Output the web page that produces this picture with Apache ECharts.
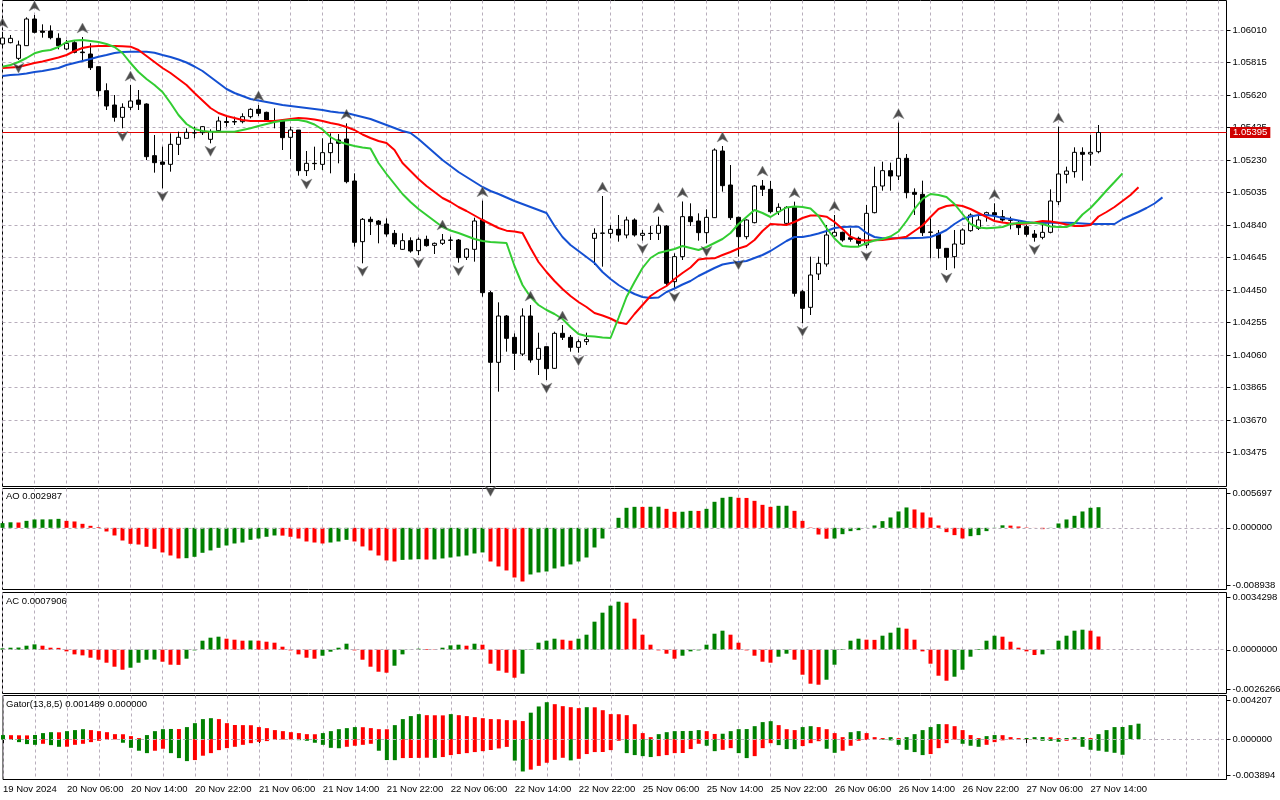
<!DOCTYPE html>
<html><head><meta charset="utf-8">
<script src="https://cdn.jsdelivr.net/npm/echarts@6/dist/echarts.min.js"></script>
<style>html,body{margin:0;padding:0;background:#fff}#c{width:1280px;height:800px}</style>
</head><body><div id="c"></div>
<script>
// ---- EURUSD H1 candles (bar 0 = 19 Nov 22:00) ----
const opens = [1.05926,1.05934,1.05840,1.05916,1.06076,1.06004,1.06004,1.05960,1.05896,1.05934,
1.05878,1.05866,1.05790,1.05646,1.05560,1.05486,1.05546,1.05590,1.05566,1.05256,
1.05218,1.05204,1.05324,1.05360,1.05392,1.05394,1.05354,1.05406,1.05461,1.05458,
1.05460,1.05490,1.05534,1.05516,1.05467,1.05464,1.05366,1.05410,1.05166,1.05210,
1.05204,1.05274,1.05350,1.05356,1.05104,1.04740,1.04874,1.04864,1.04846,1.04790,
1.04694,1.04746,1.04686,1.04754,1.04718,1.04730,1.04750,1.04750,1.04646,1.04694,
1.04870,1.04434,1.04016,1.04294,1.04166,1.04066,1.04294,1.04034,1.04110,1.03980,
1.04190,1.04166,1.04106,1.04140,1.04760,1.04790,1.04790,1.04814,1.04780,1.04870,
1.04778,1.04790,1.04790,1.04834,1.04500,1.04650,1.04890,1.04864,1.04794,1.04884,
1.05284,1.05080,1.04886,1.04770,1.04854,1.05074,1.05054,1.04920,1.04850,1.04946,
1.04440,1.04346,1.04546,1.04606,1.04774,1.04796,1.04764,1.04760,1.04720,1.04914,
1.05074,1.05166,1.05134,1.05240,1.05036,1.05024,1.04798,1.04790,1.04700,1.04650,
1.04726,1.04806,1.04820,1.04900,1.04914,1.04890,1.04870,1.04850,1.04830,1.04786,
1.04766,1.04796,1.04980,1.05144,1.05160,1.05276,1.05266,1.05280];
const closes = [1.05962,1.05960,1.05920,1.06076,1.05996,1.05996,1.05964,1.05916,1.05930,1.05876,
1.05874,1.05784,1.05646,1.05554,1.05486,1.05546,1.05584,1.05564,1.05250,1.05214,
1.05204,1.05324,1.05366,1.05396,1.05394,1.05430,1.05400,1.05464,1.05455,1.05461,
1.05490,1.05534,1.05510,1.05464,1.05464,1.05364,1.05410,1.05166,1.05210,1.05208,
1.05274,1.05330,1.05330,1.05100,1.04736,1.04874,1.04860,1.04844,1.04786,1.04726,
1.04746,1.04684,1.04754,1.04716,1.04730,1.04750,1.04748,1.04644,1.04696,1.04864,
1.04434,1.04016,1.04294,1.04160,1.04070,1.04294,1.04030,1.04100,1.03978,1.04190,
1.04166,1.04106,1.04140,1.04154,1.04790,1.04792,1.04814,1.04780,1.04870,1.04780,
1.04790,1.04789,1.04838,1.04490,1.04650,1.04890,1.04860,1.04794,1.04886,1.05290,
1.05076,1.04884,1.04770,1.04870,1.05074,1.05054,1.04920,1.04946,1.04946,1.04430,
1.04340,1.04540,1.04610,1.04780,1.04796,1.04750,1.04754,1.04730,1.04910,1.05070,
1.05166,1.05134,1.05240,1.05034,1.05024,1.04794,1.04796,1.04700,1.04646,1.04726,
1.04810,1.04900,1.04870,1.04914,1.04900,1.04870,1.04868,1.04824,1.04784,1.04766,
1.04796,1.04984,1.05146,1.05164,1.05276,1.05264,1.05276,1.05395];
const lows = [1.05914,1.05930,1.05830,1.05914,1.05990,1.05964,1.05954,1.05894,1.05890,1.05870,
1.05830,1.05770,1.05610,1.05530,1.05460,1.05420,1.05530,1.05530,1.05230,1.05154,
1.05060,1.05160,1.05260,1.05360,1.05360,1.05380,1.05330,1.05400,1.05430,1.05440,
1.05450,1.05480,1.05494,1.05460,1.05420,1.05290,1.05236,1.05136,1.05134,1.05170,
1.05170,1.05150,1.05210,1.05090,1.04710,1.04610,1.04780,1.04730,1.04770,1.04708,
1.04690,1.04674,1.04660,1.04710,1.04666,1.04720,1.04690,1.04614,1.04630,1.04620,
1.04410,1.03290,1.03840,1.04080,1.03970,1.04054,1.04014,1.03940,1.03910,1.03976,
1.04150,1.04080,1.04074,1.04120,1.04600,1.04590,1.04760,1.04740,1.04760,1.04770,
1.04746,1.04750,1.04750,1.04480,1.04456,1.04630,1.04834,1.04746,1.04730,1.04882,
1.05040,1.04870,1.04650,1.04754,1.04850,1.05014,1.04910,1.04900,1.04840,1.04410,
1.04250,1.04300,1.04510,1.04590,1.04770,1.04740,1.04740,1.04710,1.04702,1.04910,
1.05046,1.05046,1.05110,1.05000,1.04900,1.04774,1.04640,1.04640,1.04570,1.04580,
1.04720,1.04800,1.04810,1.04860,1.04860,1.04860,1.04814,1.04780,1.04770,1.04740,
1.04754,1.04790,1.04960,1.05090,1.05124,1.05106,1.05196,1.05270];
const highs = [1.05998,1.05980,1.05946,1.06086,1.06100,1.06044,1.06038,1.05990,1.05950,1.05950,
1.05968,1.05930,1.05790,1.05690,1.05620,1.05570,1.05680,1.05650,1.05570,1.05380,
1.05310,1.05390,1.05400,1.05420,1.05430,1.05434,1.05414,1.05490,1.05490,1.05490,
1.05510,1.05540,1.05560,1.05520,1.05540,1.05470,1.05430,1.05410,1.05284,1.05310,
1.05360,1.05390,1.05386,1.05450,1.05150,1.04882,1.04890,1.04870,1.04880,1.04810,
1.04790,1.04766,1.04766,1.04776,1.04735,1.04786,1.04770,1.04756,1.04700,1.04884,
1.04986,1.04444,1.04376,1.04300,1.04190,1.04340,1.04360,1.04194,1.04110,1.04200,
1.04240,1.04180,1.04154,1.04194,1.04820,1.05014,1.04840,1.04900,1.04890,1.04880,
1.04810,1.04834,1.04890,1.04840,1.04670,1.04981,1.04970,1.04910,1.04934,1.05300,
1.05314,1.05200,1.04890,1.04874,1.05080,1.05110,1.05104,1.04970,1.04954,1.04980,
1.04450,1.04650,1.04650,1.04840,1.04900,1.04800,1.04820,1.04770,1.04960,1.05190,
1.05220,1.05214,1.05454,1.05266,1.05060,1.05106,1.04880,1.04810,1.04700,1.04810,
1.04820,1.04910,1.04910,1.04920,1.04970,1.04930,1.04890,1.04866,1.04840,1.04810,
1.04840,1.05054,1.05430,1.05190,1.05306,1.05306,1.05380,1.05440];

// ---- Alligator lines (as displayed, incl. forward shift) ----
const lips = [1.05790,1.05800,1.05818,1.05842,1.05870,1.05884,1.05890,1.05908,1.05938,1.05947,
1.05950,1.05944,1.05938,1.05926,1.05908,1.05872,1.05812,1.05758,1.05716,1.05680,
1.05638,1.05572,1.05500,1.05446,1.05416,1.05404,1.05400,1.05400,1.05400,1.05400,
1.05410,1.05420,1.05434,1.05446,1.05458,1.05466,1.05470,1.05470,1.05461,1.05443,
1.05413,1.05368,1.05341,1.05326,1.05314,1.05305,1.05299,1.05212,1.05146,1.05086,
1.05026,1.04978,1.04936,1.04900,1.04864,1.04828,1.04807,1.04792,1.04774,1.04756,
1.04744,1.04738,1.04735,1.04732,1.04594,1.04480,1.04408,1.04360,1.04330,1.04306,
1.04276,1.04228,1.04186,1.04174,1.04171,1.04165,1.04162,1.04282,1.04408,1.04498,
1.04582,1.04642,1.04672,1.04684,1.04696,1.04714,1.04702,1.04690,1.04708,1.04732,
1.04756,1.04792,1.04846,1.04888,1.04930,1.04912,1.04888,1.04918,1.04945,1.04951,
1.04948,1.04939,1.04894,1.04822,1.04759,1.04714,1.04710,1.04710,1.04732,1.04747,
1.04756,1.04771,1.04801,1.04864,1.04936,1.04996,1.05026,1.05020,1.05008,1.04966,
1.04906,1.04846,1.04825,1.04820,1.04824,1.04828,1.04846,1.04852,1.04854,1.04854,
1.04846,1.04831,1.04828,1.04828,1.04849,1.04903,1.04942,1.04993,1.05047,1.05098,
1.05150];
const teeth = [1.05782,1.05785,1.05788,1.05800,1.05812,1.05821,1.05833,1.05845,1.05860,1.05884,
1.05902,1.05911,1.05914,1.05914,1.05914,1.05912,1.05910,1.05890,1.05854,1.05818,
1.05782,1.05752,1.05716,1.05680,1.05632,1.05587,1.05542,1.05512,1.05494,1.05482,
1.05470,1.05464,1.05464,1.05464,1.05464,1.05470,1.05476,1.05482,1.05479,1.05473,
1.05464,1.05452,1.05443,1.05428,1.05410,1.05383,1.05362,1.05344,1.05332,1.05290,
1.05212,1.05164,1.05116,1.05074,1.05038,1.05002,1.04978,1.04948,1.04924,1.04897,
1.04870,1.04846,1.04822,1.04806,1.04801,1.04792,1.04702,1.04618,1.04558,1.04504,
1.04456,1.04414,1.04378,1.04348,1.04312,1.04297,1.04279,1.04255,1.04246,1.04306,
1.04360,1.04414,1.04447,1.04474,1.04516,1.04552,1.04585,1.04633,1.04639,1.04640,
1.04660,1.04678,1.04699,1.04714,1.04750,1.04804,1.04846,1.04843,1.04840,1.04858,
1.04882,1.04897,1.04897,1.04890,1.04858,1.04816,1.04770,1.04750,1.04747,1.04748,
1.04750,1.04756,1.04762,1.04770,1.04804,1.04837,1.04888,1.04936,1.04954,1.04960,
1.04954,1.04936,1.04912,1.04888,1.04864,1.04855,1.04849,1.04846,1.04849,1.04855,
1.04864,1.04861,1.04854,1.04843,1.04834,1.04834,1.04840,1.04891,1.04918,1.04948,
1.04984,1.05020,1.05066];
const jaw = [1.05734,1.05740,1.05743,1.05749,1.05758,1.05764,1.05773,1.05782,1.05800,1.05812,
1.05824,1.05836,1.05850,1.05860,1.05872,1.05878,1.05880,1.05880,1.05880,1.05874,
1.05860,1.05848,1.05833,1.05815,1.05791,1.05764,1.05728,1.05692,1.05656,1.05632,
1.05614,1.05596,1.05587,1.05578,1.05569,1.05560,1.05554,1.05548,1.05542,1.05536,
1.05530,1.05521,1.05515,1.05512,1.05500,1.05488,1.05476,1.05458,1.05440,1.05422,
1.05404,1.05392,1.05356,1.05314,1.05272,1.05230,1.05194,1.05158,1.05128,1.05098,
1.05068,1.05044,1.05026,1.05005,1.04984,1.04966,1.04948,1.04930,1.04912,1.04834,
1.04768,1.04720,1.04684,1.04648,1.04612,1.04558,1.04516,1.04480,1.04450,1.04426,
1.04408,1.04402,1.04405,1.04438,1.04459,1.04483,1.04504,1.04534,1.04558,1.04582,
1.04603,1.04612,1.04618,1.04624,1.04642,1.04660,1.04684,1.04714,1.04744,1.04768,
1.04768,1.04777,1.04789,1.04804,1.04822,1.04828,1.04830,1.04830,1.04792,1.04768,
1.04760,1.04760,1.04760,1.04760,1.04762,1.04764,1.04768,1.04786,1.04810,1.04846,
1.04876,1.04891,1.04900,1.04900,1.04894,1.04882,1.04876,1.04867,1.04858,1.04852,
1.04852,1.04854,1.04854,1.04854,1.04852,1.04849,1.04846,1.04846,1.04846,1.04846,
1.04876,1.04897,1.04918,1.04942,1.04969,1.05006];

// ---- Fractals (bar indices) ----
const upFractals = [0,4,10,16,32,43,55,60,66,70,75,82,85,90,95,99,104,112,124,132];
const downFractals = [2,15,20,26,38,45,52,57,61,68,72,80,84,88,92,100,108,118,129];

// ---- Oscillators ----
const aoValues = [0.00068,0.00080,0.00077,0.00101,0.00121,0.00122,0.00123,0.00130,0.00101,0.00092,
0.00058,0.00029,0.00010,-0.00053,-0.00111,-0.00184,-0.00232,-0.00242,-0.00275,-0.00304,
-0.00357,-0.00401,-0.00444,-0.00440,-0.00420,-0.00362,-0.00328,-0.00290,-0.00256,-0.00227,
-0.00213,-0.00174,-0.00155,-0.00130,-0.00111,-0.00113,-0.00130,-0.00155,-0.00198,-0.00213,
-0.00227,-0.00213,-0.00198,-0.00174,-0.00198,-0.00270,-0.00328,-0.00401,-0.00473,-0.00488,
-0.00465,-0.00460,-0.00455,-0.00460,-0.00458,-0.00444,-0.00430,-0.00415,-0.00401,-0.00372,
-0.00357,-0.00488,-0.00560,-0.00618,-0.00720,-0.00778,-0.00676,-0.00647,-0.00633,-0.00589,
-0.00560,-0.00531,-0.00488,-0.00430,-0.00285,-0.00155,0.00002,0.00145,0.00290,0.00304,
0.00303,0.00305,0.00306,0.00275,0.00232,0.00233,0.00246,0.00245,0.00275,0.00377,
0.00435,0.00449,0.00435,0.00433,0.00391,0.00333,0.00304,0.00319,0.00320,0.00246,
0.00101,0.00005,-0.00097,-0.00158,-0.00155,-0.00092,-0.00048,-0.00034,0.00002,0.00034,
0.00097,0.00150,0.00237,0.00295,0.00266,0.00222,0.00150,0.00034,-0.00063,-0.00106,
-0.00155,-0.00121,-0.00106,-0.00048,-0.00005,0.00036,0.00032,0.00019,0.00005,0.00001,
-0.00019,-0.00002,0.00063,0.00121,0.00174,0.00237,0.00290,0.002987];
const acValues = [0.00008,0.00012,0.00013,0.00024,0.00032,0.00024,0.00012,0.00011,-0.00010,-0.00028,
-0.00034,-0.00048,-0.00060,-0.00078,-0.00102,-0.00120,-0.00108,-0.00078,-0.00060,-0.00059,
-0.00072,-0.00090,-0.00091,-0.00054,-0.00004,0.00054,0.00072,0.00078,0.00066,0.00060,
0.00054,0.00055,0.00054,0.00048,0.00042,0.00018,-0.00004,-0.00028,-0.00048,-0.00054,
-0.00036,-0.00012,0.00012,0.00036,-0.00004,-0.00060,-0.00102,-0.00132,-0.00138,-0.00096,
-0.00028,-0.00001,0.00006,0.00004,0.00002,0.00012,0.00026,0.00030,0.00024,0.00036,
0.00030,-0.00084,-0.00126,-0.00138,-0.00168,-0.00144,0.00002,0.00042,0.00054,0.00066,
0.00060,0.00054,0.00066,0.00090,0.00168,0.00222,0.00264,0.00288,0.00282,0.00186,
0.00090,0.00030,-0.00004,-0.00024,-0.00054,-0.00036,-0.00010,-0.00004,0.00030,0.00096,
0.00114,0.00090,0.00042,-0.00004,-0.00036,-0.00072,-0.00078,-0.00042,-0.00024,-0.00060,
-0.00150,-0.00204,-0.00210,-0.00180,-0.00090,0.00004,0.00054,0.00066,0.00060,0.00059,
0.00084,0.00102,0.00132,0.00126,0.00060,-0.00010,-0.00084,-0.00156,-0.00186,-0.00162,
-0.00120,-0.00042,0.00004,0.00054,0.00084,0.00078,0.00048,0.00012,-0.00010,-0.00032,
-0.00028,0.00001,0.00054,0.00084,0.00114,0.00120,0.00114,0.0007906];
const gatorUpper = [0.00039,0.00038,0.00037,0.00036,0.00040,0.00058,0.00067,0.00066,0.00077,0.00087,
0.00096,0.00087,0.00077,0.00067,0.00048,0.00047,0.00029,0.00010,0.00039,0.00077,
0.00096,0.00098,0.00097,0.00116,0.00154,0.00193,0.00202,0.00193,0.00154,0.00136,
0.00135,0.00134,0.00116,0.00106,0.00087,0.00077,0.00067,0.00058,0.00048,0.00047,
0.00058,0.00077,0.00096,0.00106,0.00116,0.00115,0.00106,0.00096,0.00095,0.00135,
0.00193,0.00222,0.00241,0.00231,0.00230,0.00229,0.00241,0.00231,0.00222,0.00212,
0.00202,0.00193,0.00192,0.00183,0.00182,0.00174,0.00255,0.00315,0.00356,0.00337,
0.00318,0.00308,0.00299,0.00308,0.00307,0.00279,0.00241,0.00240,0.00231,0.00144,
0.00058,0.00019,0.00048,0.00067,0.00077,0.00078,0.00079,0.00087,0.00077,0.00050,
0.00052,0.00077,0.00096,0.00097,0.00125,0.00164,0.00173,0.00135,0.00096,0.00087,
0.00116,0.00125,0.00116,0.00096,0.00058,0.00019,0.00067,0.00077,0.00058,0.00019,
0.00010,0.00019,0.00010,0.00019,0.00048,0.00087,0.00116,0.00145,0.00144,0.00125,
0.00087,0.00039,0.00010,0.00029,0.00039,0.00038,0.00019,0.00010,0.00011,0.00019,
0.00020,0.00018,0.00010,0.00011,0.00019,0.00020,0.00010,0.00048,0.00087,0.00116,
0.00117,0.00135,0.001489];
const gatorLower = [0.00005,0.00008,0.00029,0.00048,0.00055,0.00045,0.00058,0.00074,0.00073,0.00055,
0.00045,0.00029,0.00016,0.00006,0.00003,0.00035,0.00084,0.00112,0.00135,0.00112,
0.00093,0.00135,0.00183,0.00212,0.00202,0.00160,0.00135,0.00106,0.00087,0.00074,
0.00055,0.00039,0.00026,0.00019,0.00008,0.00004,0.00003,0.00010,0.00016,0.00035,
0.00055,0.00084,0.00088,0.00074,0.00064,0.00055,0.00045,0.00112,0.00202,0.00203,
0.00183,0.00182,0.00181,0.00179,0.00181,0.00173,0.00154,0.00144,0.00135,0.00125,
0.00116,0.00105,0.00090,0.00075,0.00207,0.00312,0.00294,0.00258,0.00228,0.00200,
0.00180,0.00205,0.00190,0.00144,0.00125,0.00124,0.00106,0.00016,0.00135,0.00154,
0.00164,0.00173,0.00164,0.00154,0.00135,0.00134,0.00096,0.00045,0.00064,0.00116,
0.00103,0.00087,0.00135,0.00183,0.00164,0.00087,0.00039,0.00058,0.00096,0.00097,
0.00067,0.00039,0.00020,0.00093,0.00132,0.00112,0.00064,0.00016,0.00008,0.00003,
0.00006,0.00012,0.00055,0.00103,0.00125,0.00154,0.00144,0.00087,0.00039,0.00005,
0.00045,0.00064,0.00074,0.00055,0.00029,0.00012,0.00004,0.00005,0.00003,0.00002,
0.00016,0.00017,0.00026,0.00016,0.00005,0.00074,0.00103,0.00112,0.00122,0.00132,
0.00151];

// ---- Axis labels ----
const timeLabels = ['19 Nov 2024','20 Nov 06:00','20 Nov 14:00','20 Nov 22:00','21 Nov 06:00','21 Nov 14:00',
'21 Nov 22:00','22 Nov 06:00','22 Nov 14:00','22 Nov 22:00','25 Nov 06:00','25 Nov 14:00','25 Nov 22:00',
'26 Nov 06:00','26 Nov 14:00','26 Nov 22:00','27 Nov 06:00','27 Nov 14:00'];
const priceTicks = ['1.03475','1.03670','1.03865','1.04060','1.04255','1.04450','1.04645','1.04840',
'1.05035','1.05230','1.05425','1.05620','1.05815','1.06010'];
const lastPrice = 1.05395;
const aoScale = [0.005697, 0, -0.008938];
const aoTickLabels = ['0.005697','0.000000','-0.008938'];
const acScale = [0.0034298, 0, -0.0026266];
const acTickLabels = ['0.0034298','0.0000000','-0.0026266'];
const gatorScale = [0.004207, 0, -0.003894];
const gatorTickLabels = ['0.004207','0.000000','-0.003894'];
const panelTitles = ['AO 0.002987','AC 0.0007906','Gator(13,8,5) 0.001489 0.000000'];

// ---- layout / style ----
const NCAT = 154, LABEL_EVERY = 8, GRID_EVERY = 4, LAST_BAR = opens.length - 1;
const cats = Array.from({length: NCAT}, (_, i) => String(i));
const FONT = 'Liberation Sans', FS = 9.5;
const GREEN = '#008000', RED = '#ff0000', GRIDC = '#b8aebc';
const L = 2.5, W = 1224;
const G = [
  {top: 0.5, height: 486},   // main
  {top: 488.5, height: 101}, // AO
  {top: 592.5, height: 101}, // AC
  {top: 695.5, height: 84},  // Gator
  {top: 30, height: 422.5}   // price label grid (1.03475 .. 1.06010)
];
const pxPerStep = G[4].height / (priceTicks.length - 1);
const priceStep = (parseFloat(priceTicks[priceTicks.length-1]) - parseFloat(priceTicks[0])) / (priceTicks.length - 1);
const mainMax = parseFloat(priceTicks[priceTicks.length-1]) + (G[4].top - G[0].top) / pxPerStep * priceStep;
const mainMin = parseFloat(priceTicks[0]) - ((G[0].top + G[0].height) - (G[4].top + G[4].height)) / pxPerStep * priceStep;

const chart = echarts.init(document.getElementById('c'));

function xAxis(gi, labels) {
  const lblInt = (i) => i % LABEL_EVERY === 0 && i <= LAST_BAR;
  return {
    type: 'category', gridIndex: gi, data: cats, boundaryGap: false,
    axisLine: {show: false},
    axisTick: {show: labels, interval: lblInt, length: 4, lineStyle: {color: '#000'}},
    axisLabel: {show: labels, interval: lblInt, formatter: (v, i) => timeLabels[i / LABEL_EVERY] || '',
      align: 'left', color: '#000', fontFamily: FONT, fontSize: FS, margin: 5},
    splitLine: {show: gi < 4, interval: (i) => i % GRID_EVERY === 0, lineStyle: {color: GRIDC, type: [3, 3], width: 1}}
  };
}
const zeroLine = {silent: true, symbol: 'none', label: {show: false}, animation: false,
  lineStyle: {color: GRIDC, type: [3, 3], width: 1}, data: [{yAxis: 0}]};
const colorBy = (arr, absv) => (p) => {
  const i = p.dataIndex; if (i === 0) return GREEN;
  const a = absv ? Math.abs(arr[i]) : arr[i], b = absv ? Math.abs(arr[i-1]) : arr[i-1];
  return a >= b ? GREEN : RED;
};
const arrowUp = 'path://M0,10 L5,0 L10,10 L5,7 Z';
const arrowDown = 'path://M0,0 L5,10 L10,0 L5,3 Z';

const option = {
  animation: false,
  backgroundColor: '#fff',
  grid: G.map((g, i) => ({left: L, width: W, top: g.top, height: g.height,
    show: i < 4, borderColor: '#000', borderWidth: 1, backgroundColor: 'transparent'})),
  xAxis: [xAxis(0, false), xAxis(1, false), xAxis(2, false), xAxis(3, true),
    {type: 'category', gridIndex: 4, data: cats, boundaryGap: false, show: false}],
  yAxis: [
    {type: 'value', gridIndex: 0, min: mainMin, max: mainMax, show: false},
    {type: 'value', gridIndex: 1, min: aoScale[2], max: aoScale[0], show: false},
    {type: 'value', gridIndex: 2, min: acScale[2], max: acScale[0], show: false},
    {type: 'value', gridIndex: 3, min: gatorScale[2], max: gatorScale[0], show: false},
    {type: 'value', gridIndex: 4, position: 'right', min: 0, max: priceTicks.length - 1, interval: 1,
      axisLine: {show: false},
      axisTick: {show: true, length: 4, lineStyle: {color: '#000'}},
      axisLabel: {formatter: (v) => priceTicks[Math.round(v)], color: '#000', fontFamily: FONT, fontSize: FS, margin: 6},
      splitLine: {show: true, lineStyle: {color: GRIDC, type: [3, 3], width: 1}}}
  ],
  series: [
    // current price (Bid) line
    {type: 'line', xAxisIndex: 0, yAxisIndex: 0, symbol: 'none', z: 2, silent: true,
      lineStyle: {color: '#e00000', width: 1}, data: [[0, lastPrice], [NCAT - 1, lastPrice]]},
    {type: 'candlestick', xAxisIndex: 0, yAxisIndex: 0, barWidth: 4, z: 3,
      data: opens.map((o, i) => [o, closes[i], lows[i], highs[i]]),
      itemStyle: {color: '#fff', color0: '#000', borderColor: '#000', borderColor0: '#000', borderColorDoji: '#000', borderWidth: 1}},
    {type: 'line', xAxisIndex: 0, yAxisIndex: 0, data: jaw, symbol: 'none', z: 4, lineStyle: {color: '#1450d2', width: 2}},
    {type: 'line', xAxisIndex: 0, yAxisIndex: 0, data: teeth, symbol: 'none', z: 4, lineStyle: {color: '#ff0000', width: 2}},
    {type: 'line', xAxisIndex: 0, yAxisIndex: 0, data: lips, symbol: 'none', z: 4, lineStyle: {color: '#32cd32', width: 2}},
    {type: 'scatter', xAxisIndex: 0, yAxisIndex: 0, z: 5, symbol: arrowUp, symbolSize: [11, 10], symbolOffset: [0, -9],
      itemStyle: {color: '#222', borderColor: '#8a8a8a', borderWidth: 0.6}, data: upFractals.map(i => [i, highs[i]])},
    {type: 'scatter', xAxisIndex: 0, yAxisIndex: 0, z: 5, symbol: arrowDown, symbolSize: [11, 10], symbolOffset: [0, 8],
      itemStyle: {color: '#222', borderColor: '#8a8a8a', borderWidth: 0.6}, data: downFractals.map(i => [i, lows[i]])},
    {type: 'bar', xAxisIndex: 1, yAxisIndex: 1, barWidth: 4, data: aoValues,
      itemStyle: {color: colorBy(aoValues, false)}, markLine: zeroLine},
    {type: 'bar', xAxisIndex: 2, yAxisIndex: 2, barWidth: 4, data: acValues,
      itemStyle: {color: colorBy(acValues, false)}, markLine: zeroLine},
    {type: 'bar', xAxisIndex: 3, yAxisIndex: 3, barWidth: 4, stack: 'gator', data: gatorUpper,
      itemStyle: {color: colorBy(gatorUpper, true)}, markLine: zeroLine},
    {type: 'bar', xAxisIndex: 3, yAxisIndex: 3, barWidth: 4, stack: 'gator', data: gatorLower.map(v => -v),
      itemStyle: {color: colorBy(gatorLower, true)}}
  ]
};
chart.setOption(option);

// Sub-window titles, right-hand scale labels, current price box
const graphics = [];
const fontStr = FS + 'px "' + FONT + '"';
const titleTops = [491, 596.5, 699.5];
panelTitles.forEach((t, k) => graphics.push({type: 'text', left: 6, top: titleTops[k],
  style: {text: t, fill: '#000', font: fontStr}}));
[[aoScale, aoTickLabels, 1], [acScale, acTickLabels, 2], [gatorScale, gatorTickLabels, 3]].forEach(([sc, lb, ax]) => {
  sc.forEach((v, j) => {
    let y = chart.convertToPixel({yAxisIndex: ax}, v);
    if (j === 0) y += 4.5; else if (j === 2) y -= 4.5;
    graphics.push({type: 'text', x: L + W + 6, y: y,
      style: {text: lb[j], fill: '#000', font: fontStr, textVerticalAlign: 'middle', textAlign: 'left'}});
    graphics.push({type: 'line', shape: {x1: L + W, y1: Math.round(y) + 0.5, x2: L + W + 4, y2: Math.round(y) + 0.5},
      style: {stroke: '#000', lineWidth: 1}});
  });
});
const yLast = chart.convertToPixel({yAxisIndex: 0}, lastPrice);
graphics.push({type: 'text', x: L + W + 3.5, y: yLast, z: 100,
  style: {text: lastPrice.toFixed(5), fill: '#fff', font: fontStr, textVerticalAlign: 'middle', textAlign: 'left',
    backgroundColor: '#d00000', padding: [1, 3, 0, 3]}});
chart.setOption({graphic: graphics});
</script>
</body></html>
